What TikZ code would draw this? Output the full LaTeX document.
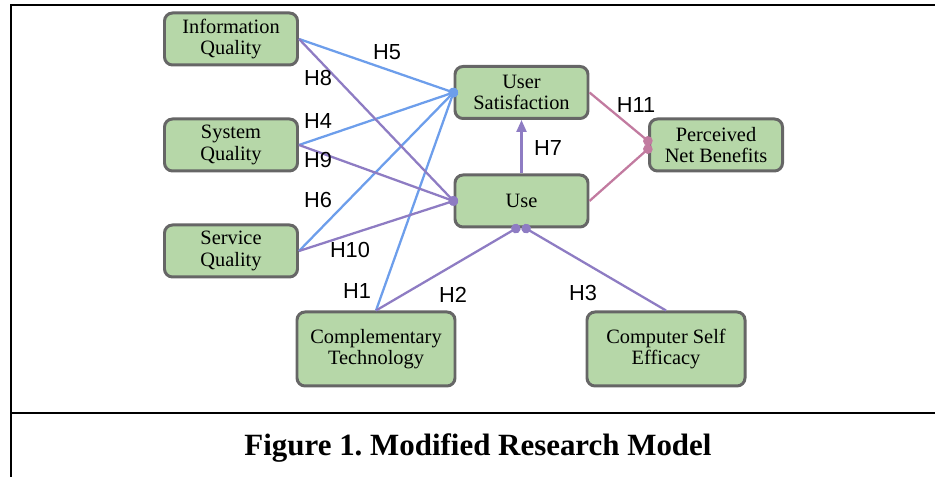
\documentclass[tikz,border=0pt]{standalone}
\usepackage{fontspec}
\usetikzlibrary{arrows.meta}
\newfontfamily\hypfont{Liberation Sans}
\newfontfamily\boxfont{Liberation Serif}
\definecolor{boxfill}{HTML}{B6D7A8}
\definecolor{boxline}{HTML}{666666}
\definecolor{linkblue}{HTML}{6D9EEB}
\definecolor{linkpurple}{HTML}{8E7CC3}
\definecolor{linkpink}{HTML}{C27BA0}
\frenchspacing
\begin{document}
\begin{tikzpicture}[
	construct/.style={draw=boxline, fill=boxfill, line width=1.7pt, rounded corners=0.16cm, minimum width=2.66cm, minimum height=1.04cm, inner sep=0pt, align=center, font=\boxfont\fontsize{11.6}{12.2}\selectfont},
	bigconstruct/.style={construct, minimum width=3.16cm, minimum height=1.48cm},
	link/.style={line width=1.3pt, -{Circle[length=5.4pt]}, shorten >=-2.6pt},
	hlabel/.style={font=\hypfont\fontsize{12.4}{13}\selectfont, inner sep=0pt},
	frameline/.style={draw=black, line width=1.3pt},
]
	\useasboundingbox (0.00,0.00) rectangle (18.70,9.54);
	\draw[frameline] (0.22,0.00) -- (0.22,9.44) -- (18.70,9.44);
	\draw[frameline] (0.22,1.28) -- (18.70,1.28);
	\node[construct] (info) at (4.62,8.76) {Information\\Quality};
	\node[construct] (sys) at (4.62,6.64) {System\\Quality};
	\node[construct] (serv) at (4.62,4.52) {Service\\Quality};
	\node[construct] (usat) at (10.43,7.69) {User\\Satisfaction};
	\node[construct] (use) at (10.43,5.52) {Use};
	\node[construct] (pnb) at (14.32,6.64) {Perceived\\Net Benefits};
	\node[bigconstruct] (comp) at (7.52,2.56) {Complementary\\Technology};
	\node[bigconstruct] (cse) at (13.32,2.56) {Computer Self\\Efficacy};
	\draw[link, linkblue] (info.east) -- (usat.west);
	\draw[link, linkblue] (sys.east) -- (usat.west);
	\draw[link, linkblue] (serv.east) -- (usat.west);
	\draw[link, linkblue] (comp.north) -- (usat.west);
	\draw[link, linkpurple] (info.east) -- (use.west);
	\draw[link, linkpurple] (sys.east) -- (use.west);
	\draw[link, linkpurple] (serv.east) -- (use.west);
	\draw[link, linkpurple] (comp.north) -- ([xshift=-0.11cm]use.south);
	\draw[link, linkpurple] (cse.north) -- ([xshift=0.09cm]use.south);
	\draw[linkpurple, line width=1.3pt, -{Triangle[length=0.24cm, width=0.20cm]}] (use.north) -- (usat.south);
	\draw[link, linkpink] (usat.east) -- ([yshift=0.08cm]pnb.west);
	\draw[link, linkpink] (use.east) -- ([yshift=-0.08cm]pnb.west);
	\node[hlabel] (h5) at (7.74,8.50) {H5};
	\node[hlabel] (h8) at (6.36,7.98) {H8};
	\node[hlabel] (h4) at (6.36,7.12) {H4};
	\node[hlabel] (h9) at (6.36,6.34) {H9};
	\node[hlabel] (h6) at (6.36,5.54) {H6};
	\node[hlabel] (h10) at (7.00,4.54) {H10};
	\node[hlabel] (h1) at (7.14,3.72) {H1};
	\node[hlabel] (h2) at (9.06,3.64) {H2};
	\node[hlabel] (h3) at (11.66,3.68) {H3};
	\node[hlabel] (h7) at (10.96,6.58) {H7};
	\node[hlabel] (h11) at (12.72,7.44) {H11};
	\node[font=\boxfont\fontsize{17.6}{20}\selectfont\bfseries] (caption) at (9.56,0.58) {Figure 1. Modified Research Model};
\end{tikzpicture}
\end{document}
